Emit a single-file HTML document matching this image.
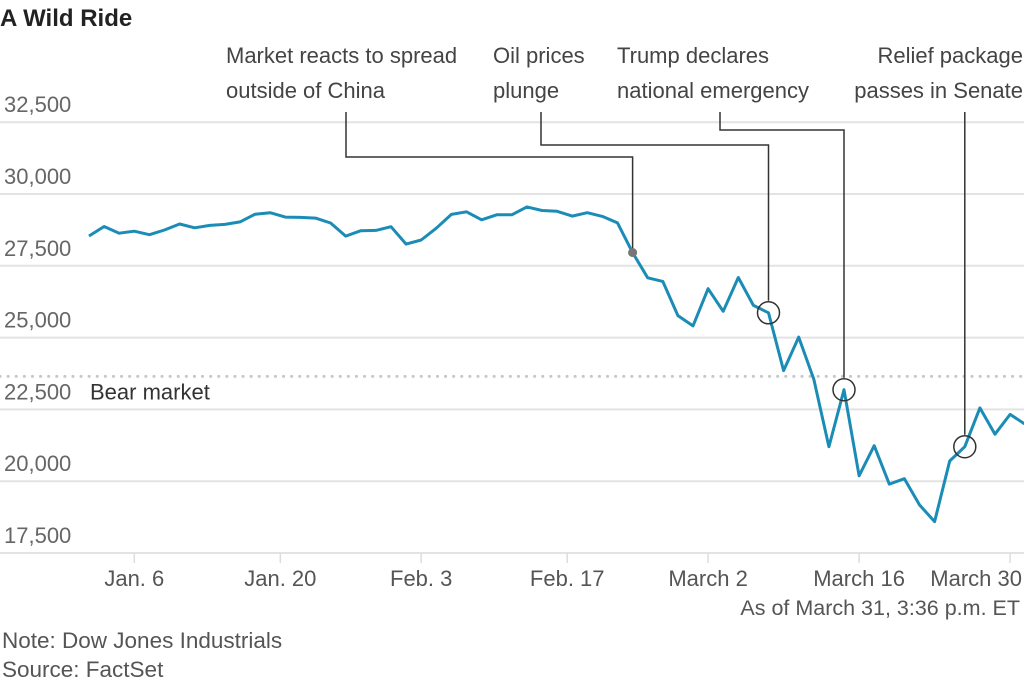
<!DOCTYPE html>
<html><head><meta charset="utf-8"><style>
body{margin:0;background:#fff;}
svg text{font-family:"Liberation Sans",sans-serif;}
</style></head><body>
<svg width="1024" height="681" viewBox="0 0 1024 681" xmlns="http://www.w3.org/2000/svg">
<text x="0" y="26" font-size="24" font-weight="bold" fill="#222">A Wild Ride</text>
<g id="grid"></g>
<g id="ylab"></g>
<g id="xax"></g>
<line id="bear" x1="0" x2="1024" stroke="#c4c8cc" stroke-width="3" stroke-dasharray="0.1 8" stroke-linecap="round"/>
<text id="bearlab" x="90" font-size="22" fill="#333">Bear market</text>
<g id="ann"></g>
<path id="line" fill="none" stroke="#1a8cb5" stroke-width="3" stroke-linejoin="round"/>
<g id="marks"></g>
<text x="1020" y="615" text-anchor="end" font-size="21.5" fill="#555">As of March 31, 3:36 p.m. ET</text>
<text x="2" y="648" font-size="22.5" fill="#555">Note: Dow Jones Industrials</text>
<text x="2" y="677" font-size="22.5" fill="#555">Source: FactSet</text>
</svg>
<script>
const values=[28538,28868,28634,28703,28583,28745,28957,28824,28907,28940,29030,29298,29348,29196,29186,29160,28990,28535,28723,28734,28860,28256,28400,28808,29290,29380,29103,29276,29276,29551,29424,29398,29232,29348,29219,28992,27961,27081,26957,25766,25409,26703,25917,27091,26121,25865,23851,25018,23553,21200,23186,20189,21237,19899,20087,19174,18592,20705,21201,22552,21637,22327,21980];
const yTicks=[17500,20000,22500,25000,27500,30000,32500];
const xTickLabels=["Jan. 6","Jan. 20","Feb. 3","Feb. 17","March 2","March 16","March 30"];
const xTickIdx=[3,12.67,22,31.67,41,51,61];
const bearValue=23650;
const events=[{label:["Market reacts to spread","outside of China"],idx:36,dot:true},{label:["Oil prices","plunge"],idx:45},{label:["Trump declares","national emergency"],idx:50},{label:["Relief package","passes in Senate"],idx:58}];
const NS="http://www.w3.org/2000/svg";
const X=i=>89+i*15.1;
const Y=v=>553-(v-17500)/2500*71.8;
function mk(t,a,p){const e=document.createElementNS(NS,t);for(const k in a)e.setAttribute(k,a[k]);p.appendChild(e);return e;}
const grid=document.getElementById('grid'),ylab=document.getElementById('ylab'),xax=document.getElementById('xax');
yTicks.forEach(v=>{
 const l=mk('line',{x1:0,x2:1024,y1:Y(v),y2:Y(v),stroke:'#e3e3e3','stroke-width':2},grid);
 
 
 const t=mk('text',{x:4,y:Y(v)-10,'font-size':22,fill:'#666'},ylab);
 t.textContent=v.toLocaleString('en-US');
 
 
});
xTickIdx.forEach((ix,k)=>{
 const x=X(ix);
 const l=mk('line',{x1:x,x2:x,y1:553,y2:563,stroke:'#ddd','stroke-width':1.5},xax);
 
 
 const last=k===xTickIdx.length-1;
 const t=mk('text',{x:last?1022:x,y:586,'font-size':22,fill:'#555','text-anchor':last?'end':'middle'},xax);
 t.textContent=xTickLabels[k];
 
 
});
const bear=document.getElementById('bear');bear.setAttribute('y1',Y(bearValue));bear.setAttribute('y2',Y(bearValue));
document.getElementById('bearlab').setAttribute('y',Y(bearValue)+23);
document.getElementById('line').setAttribute('d',values.map((v,i)=>(i?'L':'M')+X(i).toFixed(1)+' '+Y(v).toFixed(1)).join(''));
const ann=document.getElementById('ann'),marks=document.getElementById('marks');
const labelX=[226,493,617,1023],anchor=['start','start','start','end'],stemX=[346,541,720,963],elbowY=[157,145,130,null];
events.forEach((e,k)=>{
 const px=X(e.idx),py=Y(values[e.idx]);
 e.label.forEach((s,j)=>{const t=mk('text',{x:labelX[k],y:63+j*35,'font-size':22,fill:'#444','text-anchor':anchor[k]},ann);t.textContent=s;
  
  });
 const endY=e.dot?py:py-12;
 const d=elbowY[k]==null?`M${px} 112 L${px} ${endY}`:`M${stemX[k]} 112 L${stemX[k]} ${elbowY[k]} L${px} ${elbowY[k]} L${px} ${endY}`;
 const p=mk('path',{d:d,fill:'none',stroke:'#333','stroke-width':1.5},ann);
 
 
 const c=e.dot?mk('circle',{cx:px,cy:py,r:4.5,fill:'#777'},marks):mk('circle',{cx:px,cy:py,r:11,fill:'none',stroke:'#333','stroke-width':1.5},marks);
 
 
});
</script>
</body></html>
